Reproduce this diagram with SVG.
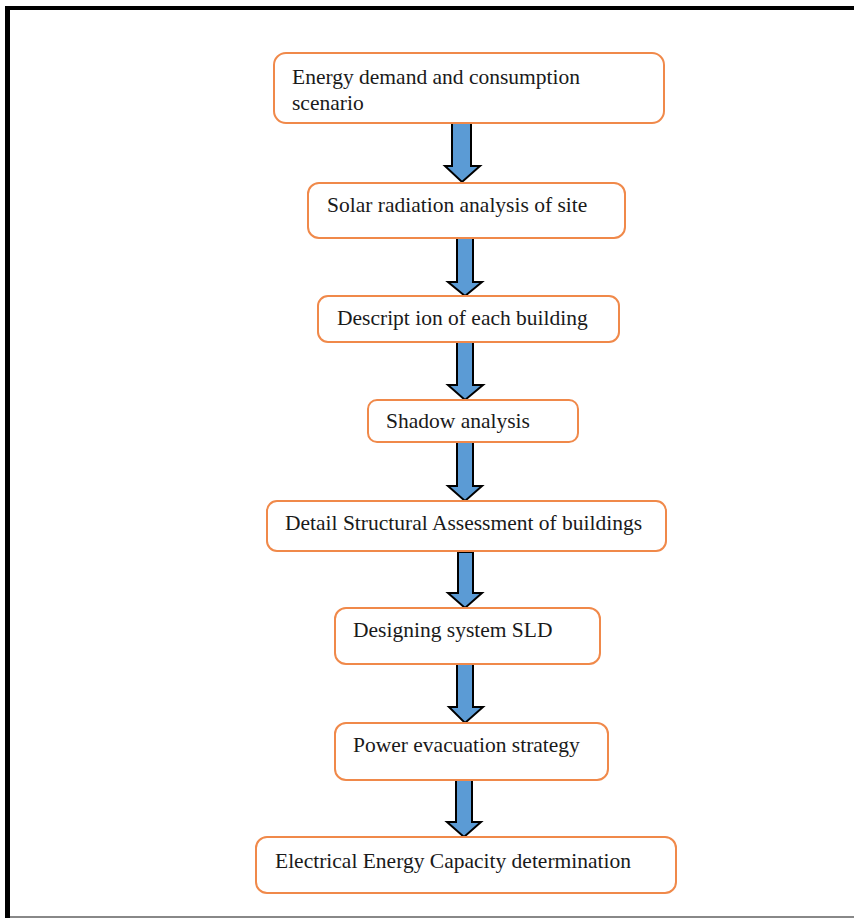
<svg xmlns="http://www.w3.org/2000/svg" width="854" height="921" viewBox="0 0 854 921">
<style>
.box{fill:#fff;stroke:#F0894A;stroke-width:2}
.t{font-family:"Liberation Serif","Times New Roman",serif;font-size:21.5px;fill:#1a1a1a}
.ar{fill:#5B9BD5;stroke:#000;stroke-width:2;stroke-linejoin:miter}
</style>
<rect x="0" y="0" width="854" height="921" fill="#fff"/>
<g id="frame">
<line x1="5" y1="8" x2="854" y2="8" stroke="#000" stroke-width="4"/>
<line x1="7.5" y1="6" x2="7.5" y2="918" stroke="#000" stroke-width="5"/>
<line x1="10" y1="917" x2="854" y2="917" stroke="#888" stroke-width="2"/>
</g>
<g id="connectors">
<path class="ar" d="M452,123 H471 V166 H480 L462,182 L445,166 H452 Z"/>
<path class="ar" d="M457,238 H473 V282 H482 L465,296 L448,282 H457 Z"/>
<path class="ar" d="M457,342 H473 V385 H483 L465,400 L448,385 H457 Z"/>
<path class="ar" d="M457,442 H473 V486 H482 L465,501 L448,486 H457 Z"/>
<path class="ar" d="M458,552 H473 V593 H482 L465,608 L448,593 H458 Z"/>
<path class="ar" d="M457,664 H473 V707 H483 L465,723 L449,707 H457 Z"/>
<path class="ar" d="M456,780 H472 V822 H481 L464,837 L447,822 H456 Z"/>
</g>
<g id="n1"><rect class="box" x="274" y="53" width="390" height="70" rx="12"/><text class="t" x="292" y="84">Energy demand and consumption</text><text class="t" x="292" y="110">scenario</text></g>
<g id="n2"><rect class="box" x="308" y="183" width="317" height="55" rx="11"/><text class="t" x="327" y="212">Solar radiation analysis of site</text></g>
<g id="n3"><rect class="box" x="318" y="296" width="301" height="46" rx="10"/><text class="t" x="337" y="325">Descript ion of each building</text></g>
<g id="n4"><rect class="box" x="368" y="400" width="210" height="42" rx="9"/><text class="t" x="386" y="428">Shadow analysis</text></g>
<g id="n5"><rect class="box" x="267" y="501" width="399" height="50" rx="10"/><text class="t" x="285" y="530">Detail Structural Assessment of buildings</text></g>
<g id="n6"><rect class="box" x="335" y="608" width="265" height="56" rx="11"/><text class="t" x="353" y="637">Designing system SLD</text></g>
<g id="n7"><rect class="box" x="335" y="723" width="273" height="57" rx="11"/><text class="t" x="353" y="752">Power evacuation strategy</text></g>
<g id="n8"><rect class="box" x="256" y="837" width="420" height="56" rx="11"/><text class="t" x="275" y="868">Electrical Energy Capacity determination</text></g>
</svg>
